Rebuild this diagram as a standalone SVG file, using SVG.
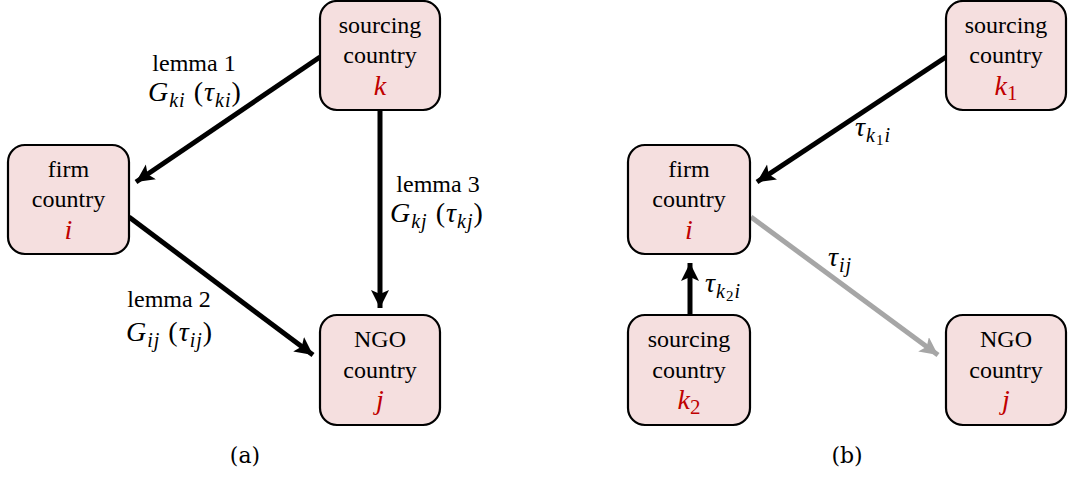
<svg xmlns="http://www.w3.org/2000/svg" width="1070" height="477" viewBox="0 0 1070 477">
<style>
text{font-family:"Liberation Serif","Times New Roman",serif}
.box{fill:#f5dfdf;stroke:#000;stroke-width:2.2}
.t{font-size:24px;fill:#000;text-anchor:middle}
.m{font-style:italic;font-size:28px;fill:#000;letter-spacing:1px}
.v{font-style:italic;font-size:28px;fill:#c00000;text-anchor:middle}
.s{font-size:20px}
.ss{font-size:15px}
.n{font-style:normal}
.e{fill:none;stroke:#000;stroke-width:5}
.g{fill:none;stroke:#a6a6a6;stroke-width:5}
text.cap{font-family:"DejaVu Serif","Liberation Serif",serif;font-size:22px;fill:#000;text-anchor:middle}
</style>
<defs>
<marker id="ah" markerUnits="userSpaceOnUse" markerWidth="20" markerHeight="20" refX="18" refY="9" orient="auto"><path d="M0,0 L18,9 L0,18 L4,9 Z" fill="#000"/></marker>
<marker id="ahg" markerUnits="userSpaceOnUse" markerWidth="20" markerHeight="20" refX="18" refY="9" orient="auto"><path d="M0,0 L18,9 L0,18 L4,9 Z" fill="#a6a6a6"/></marker>
</defs>
<g id="connectors">
<path class="e" d="M320,57 L136,182" marker-end="url(#ah)"/>
<path class="e" d="M380,110 L380,308" marker-end="url(#ah)"/>
<path class="e" d="M129,217 L313,355" marker-end="url(#ah)"/>
<path class="e" d="M946,57 L757,182" marker-end="url(#ah)"/>
<path class="e" d="M690,315 L690,263" marker-end="url(#ah)"/>
<path class="g" d="M751,217 L938,355" marker-end="url(#ahg)"/>
</g>
<g id="labels">
<text class="t" x="194" y="71">lemma 1</text>
<text class="m" x="148" y="101">G<tspan class="s" dy="6">ki</tspan><tspan dy="-6" class="n">  (</tspan>τ<tspan class="s" dy="6">ki</tspan><tspan class="n" dy="-6">)</tspan></text>
<text class="t" x="438" y="192">lemma 3</text>
<text class="m" x="390" y="222">G<tspan class="s" dy="6">kj</tspan><tspan dy="-6" class="n">  (</tspan>τ<tspan class="s" dy="6">kj</tspan><tspan class="n" dy="-6">)</tspan></text>
<text class="t" x="169" y="307">lemma 2</text>
<text class="m" x="126" y="341">G<tspan class="s" dy="6">ij</tspan><tspan dy="-6" class="n">  (</tspan>τ<tspan class="s" dy="6">ij</tspan><tspan class="n" dy="-6">)</tspan></text>
<text class="m" x="855" y="136">τ<tspan class="s" dy="6">k</tspan><tspan class="ss n" dy="3">1</tspan><tspan class="s" dy="-3">i</tspan></text>
<text class="m" x="705" y="292">τ<tspan class="s" dy="6">k</tspan><tspan class="ss n" dy="3">2</tspan><tspan class="s" dy="-3">i</tspan></text>
<text class="m" x="828" y="266">τ<tspan class="s" dy="6">ij</tspan></text>
<text class="cap" x="245" y="463">(a)</text>
<text class="cap" x="847" y="463">(b)</text>
</g>
<g id="node-a-k">
<rect class="box" x="320" y="1" width="120" height="109" rx="17"/>
<text class="t" x="380" y="33">sourcing</text>
<text class="t" x="380" y="63">country</text>
<text class="v" x="380" y="95">k</text>
</g>
<g id="node-a-i">
<rect class="box" x="8" y="145" width="121" height="109" rx="17"/>
<text class="t" x="68.5" y="177">firm</text>
<text class="t" x="68.5" y="207">country</text>
<text class="v" x="68.5" y="239">i</text>
</g>
<g id="node-a-j">
<rect class="box" x="320" y="315" width="120" height="110" rx="17"/>
<text class="t" x="380" y="347">NGO</text>
<text class="t" x="380" y="378">country</text>
<text class="v" x="380" y="409">j</text>
</g>
<g id="node-b-k1">
<rect class="box" x="946" y="1" width="120" height="109" rx="17"/>
<text class="t" x="1006" y="33">sourcing</text>
<text class="t" x="1006" y="63">country</text>
<text class="v" x="1006" y="95">k<tspan font-size="21" font-style="normal" dy="5">1</tspan></text>
</g>
<g id="node-b-i">
<rect class="box" x="628" y="145" width="122" height="109" rx="17"/>
<text class="t" x="689" y="177">firm</text>
<text class="t" x="689" y="207">country</text>
<text class="v" x="689" y="239">i</text>
</g>
<g id="node-b-k2">
<rect class="box" x="628" y="315" width="122" height="110" rx="17"/>
<text class="t" x="689" y="347">sourcing</text>
<text class="t" x="689" y="378">country</text>
<text class="v" x="689" y="409">k<tspan font-size="21" font-style="normal" dy="5">2</tspan></text>
</g>
<g id="node-b-j">
<rect class="box" x="946" y="315" width="120" height="110" rx="17"/>
<text class="t" x="1006" y="347">NGO</text>
<text class="t" x="1006" y="378">country</text>
<text class="v" x="1006" y="409">j</text>
</g>
</svg>
